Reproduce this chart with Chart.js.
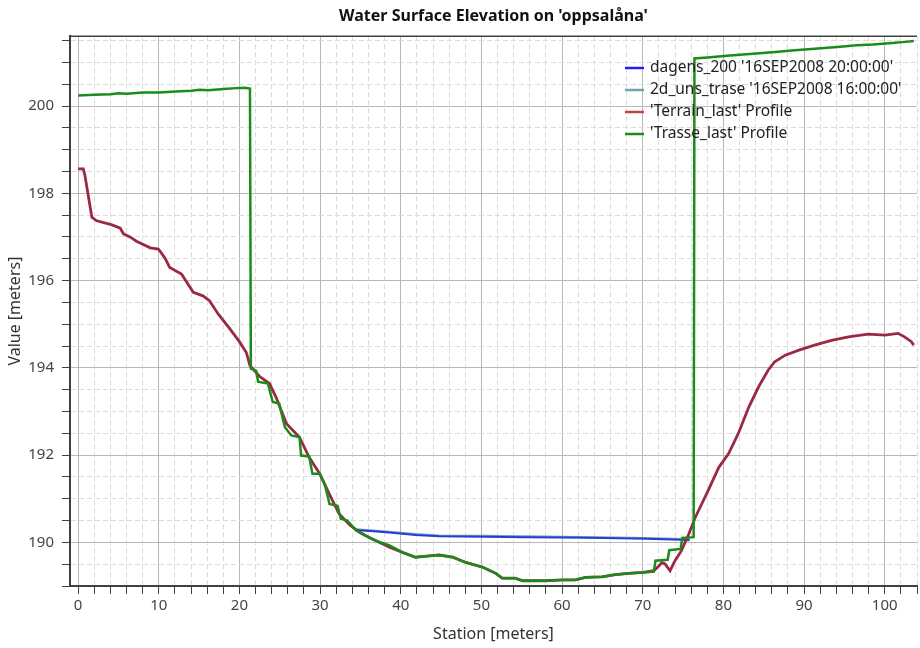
<!DOCTYPE html>
<html>
<head>
<meta charset="utf-8">
<script src="https://cdn.jsdelivr.net/npm/chart.js@4.4.0/dist/chart.umd.min.js"></script>
<style>
    html, body { margin: 0; padding: 0; background: #fff; }
</style>
</head>
<body>
<canvas id="chart" width="920" height="648"></canvas>
<script>
/* global Chart */

// Profile data: station [m] / elevation [m]

const dagensStation = [34.48, 36.19, 38.21, 40.22, 41.82, 44.74, 50.27, 55.3, 60.02, 65.35, 70.38, 74.8, 75.81];
const dagensValue = [190.28, 190.26, 190.23, 190.2, 190.17, 190.14, 190.13, 190.12, 190.11, 190.1, 190.08, 190.06, 190.05];

const unsStation = [34.48, 38.21, 41.82, 44.74, 50.27, 60.02, 70.38, 75.81];
const unsValue = [190.3, 190.25, 190.19, 190.16, 190.15, 190.13, 190.1, 190.07];

const terrainStation = [
    0, 0.65, 0.86, 1.71, 2.31, 4.12, 5.23, 5.63, 6.43, 7.24, 8.95, 9.95, 10.25, 10.76, 11.36, 12.82, 14.28, 15.48,
    16.29, 17.39, 18.8, 20.0, 20.86, 21.31, 22.52, 23.73, 24.53, 25.84, 27.45, 28.65, 29.96, 31.17, 32.37, 33.68,
    34.89, 36.09, 38.61, 40.22, 41.82, 43.53, 44.74, 46.45, 48.06, 50.17, 51.78, 52.58, 54.19, 55.1, 57.91, 60.02,
    61.63, 62.94, 64.95, 66.56, 68.27, 70.08, 71.38, 71.99, 72.39, 72.79, 73.39, 74.0, 74.8, 75.71, 76.51, 78.12,
    79.43, 80.63, 81.84, 83.15, 84.35, 85.56, 86.36, 87.67, 89.28, 91.29, 93.4, 95.51, 97.93, 100.04, 101.65,
    102.45, 103.3, 103.6
];
const terrainValue = [
    198.56, 198.56, 198.4, 197.45, 197.37, 197.28, 197.2, 197.07, 197.0, 196.9, 196.75, 196.72, 196.65, 196.52,
    196.3, 196.15, 195.73, 195.65, 195.54, 195.23, 194.9, 194.6, 194.35, 194.05, 193.8, 193.64, 193.33, 192.72,
    192.41, 191.95, 191.57, 191.1, 190.65, 190.4, 190.23, 190.11, 189.89, 189.77, 189.66, 189.69, 189.71, 189.66,
    189.54, 189.43, 189.29, 189.18, 189.18, 189.12, 189.12, 189.14, 189.14, 189.2, 189.21, 189.26, 189.29, 189.31,
    189.35, 189.46, 189.54, 189.5, 189.35, 189.58, 189.81, 190.19, 190.57, 191.19, 191.72, 192.03, 192.49, 193.1,
    193.56, 193.95, 194.14, 194.29, 194.4, 194.52, 194.63, 194.71, 194.77, 194.75, 194.79, 194.71, 194.6, 194.52
];

const trasseStation = [
    0, 2.01, 4.02, 5.03, 6.03, 8.04, 10.05, 12.06, 14.08, 15.08, 16.09, 18.1, 19.61, 20.61, 21.31, 21.42, 21.42,
    22.08, 22.32, 23.53, 24.13, 24.93, 25.64, 26.44, 27.45, 27.65, 28.65, 29.06, 29.96, 30.57, 31.17, 32.17, 32.57,
    33.38, 34.48, 35.69, 36.9, 38.61, 40.22, 41.82, 43.53, 44.74, 46.45, 48.06, 50.17, 51.78, 52.58, 54.19, 55.1,
    57.91, 60.02, 61.63, 62.94, 64.95, 66.56, 68.27, 70.08, 71.38, 71.58, 73.09, 73.29, 74.7, 74.9, 76.31, 76.41,
    78.42, 80.43, 82.44, 84.45, 86.46, 88.48, 90.49, 92.5, 94.51, 96.52, 98.53, 100.54, 102.55, 103.6
];
const trasseValue = [
    200.24, 200.26, 200.27, 200.29, 200.28, 200.31, 200.31, 200.33, 200.35, 200.37, 200.36, 200.39, 200.41,
    200.42, 200.4, 194.0, 193.98, 193.93, 193.68, 193.64, 193.22, 193.18, 192.64, 192.45, 192.41, 191.99, 191.97,
    191.57, 191.57, 191.34, 190.88, 190.84, 190.54, 190.5, 190.27, 190.15, 190.04, 189.93, 189.77, 189.66, 189.69,
    189.71, 189.66, 189.54, 189.43, 189.29, 189.18, 189.18, 189.12, 189.12, 189.14, 189.14, 189.2, 189.21, 189.26,
    189.29, 189.31, 189.33, 189.58, 189.6, 189.82, 189.85, 190.1, 190.12, 201.09, 201.12, 201.15, 201.18, 201.21,
    201.24, 201.27, 201.3, 201.33, 201.36, 201.39, 201.41, 201.44, 201.47, 201.49
];

const seriesLabels = [
    "dagens_200 '16SEP2008 20:00:00'",
    "2d_uns_trase '16SEP2008 16:00:00'",
    "'Terrain_last' Profile",
    "'Trasse_last' Profile"
];

const toPoints = (xs, ys) => xs.map((x, i) => ({ x: x, y: ys[i] }));

const FONT = '"Noto Sans", "DejaVu Sans", sans-serif';
Chart.defaults.font.family = FONT;
Chart.defaults.color = '#444';

// legend drawn inside the plot, top right
const insideLegend = {
    id: 'insideLegend',
    afterDatasetsDraw(chart) {
        const ctx = chart.ctx;
        ctx.save();
        ctx.font = '15.5px ' + FONT;
        ctx.textBaseline = 'middle';
        chart.data.datasets.forEach((ds, i) => {
            const y = 68 + i * 22;
            ctx.strokeStyle = ds.legendColor;
            ctx.lineWidth = 2.5;
            ctx.beginPath();
            ctx.moveTo(625, y);
            ctx.lineTo(644, y);
            ctx.stroke();
            ctx.fillStyle = '#222';
            ctx.fillText(ds.label, 650, y);
        });
        ctx.restore();
    }
};

// dark line along the top of the plot
const frame = {
    id: 'frame',
    afterDraw(chart) {
        const a = chart.chartArea;
        const ctx = chart.ctx;
        ctx.save();
        ctx.strokeStyle = '#404040';
        ctx.lineWidth = 1.5;
        ctx.beginPath();
        ctx.moveTo(a.left, a.top);
        ctx.lineTo(a.right, a.top);
        ctx.stroke();
        ctx.restore();
    }
};

const isMajor = (v, step) => Math.abs(v / step - Math.round(v / step)) < 1e-6;

new Chart(document.getElementById('chart').getContext('2d'), {
    type: 'line',
    data: {
        datasets: [
            {
                label: seriesLabels[0],
                data: toPoints(dagensStation, dagensValue),
                borderColor: '#2b3bd8',
                legendColor: '#2020ff',
                borderWidth: 2,
                order: 2,
            },
            {
                label: seriesLabels[1],
                data: toPoints(unsStation, unsValue),
                borderColor: '#6aa8ac',
                legendColor: '#6aaaae',
                borderWidth: 2,
                order: 3,
            },
            {
                label: seriesLabels[2],
                data: toPoints(terrainStation, terrainValue),
                borderColor: '#9a2a44',
                legendColor: '#c0453f',
                borderWidth: 2.8,
                order: 1,
            },
            {
                label: seriesLabels[3],
                data: toPoints(trasseStation, trasseValue),
                borderColor: '#1a8c1a',
                legendColor: '#1a8c1a',
                borderWidth: 2.5,
                order: 0,
            },
        ]
    },
    options: {
        responsive: false,
        animation: false,
        elements: {
            point: { radius: 0 },
            line: { tension: 0 }
        },
        layout: {
            padding: { left: 0, right: 1, top: 0, bottom: 0 }
        },
        scales: {
            x: {
                type: 'linear',
                min: -1,
                max: 104,
                afterFit: (scale) => { scale.height = 62; },
                ticks: {
                    stepSize: 2,
                    includeBounds: false,
                    autoSkip: false,
                    maxRotation: 0,
                    padding: 3,
                    font: { size: 15 },
                    callback: (v) => isMajor(v, 10) ? v : ''
                },
                grid: {
                    color: (c) => (c.tick && isMajor(c.tick.value, 10)) ? '#b8b8b8' : '#dcdcdc',
                    tickColor: '#404040',
                    tickLength: 8,
                },
                border: {
                    color: '#404040',
                    width: 2,
                    dash: (c) => (c.tick && !isMajor(c.tick.value, 10)) ? [5, 3] : [],
                },
                title: {
                    display: true,
                    text: 'Station [meters]',
                    font: { size: 16 },
                    color: '#333',
                    padding: { top: 0, bottom: 4 }
                }
            },
            y: {
                min: 189,
                max: 201.6,
                afterFit: (scale) => { scale.width = 70; },
                ticks: {
                    stepSize: 0.5,
                    includeBounds: false,
                    autoSkip: false,
                    padding: 8,
                    font: { size: 15 },
                    callback: (v) => isMajor(v, 2) ? v : ''
                },
                grid: {
                    color: (c) => (c.tick && isMajor(c.tick.value, 2)) ? '#b8b8b8' : '#dcdcdc',
                    tickColor: '#404040',
                    tickLength: 8,
                },
                border: {
                    color: '#404040',
                    width: 2,
                    dash: (c) => (c.tick && !isMajor(c.tick.value, 2)) ? [5, 3] : [],
                },
                title: {
                    display: true,
                    text: 'Value [meters]',
                    font: { size: 16 },
                    color: '#333',
                    padding: { top: 6, bottom: 0 }
                }
            }
        },
        plugins: {
            legend: { display: false },
            tooltip: { enabled: false },
            title: {
                display: true,
                text: "Water Surface Elevation on 'oppsalåna'",
                fullSize: false,
                color: '#111',
                font: { size: 16, weight: 'bold' },
                padding: { top: 7, bottom: 10 }
            }
        }
    },
    plugins: [insideLegend, frame]
});
</script>
</body>
</html>
